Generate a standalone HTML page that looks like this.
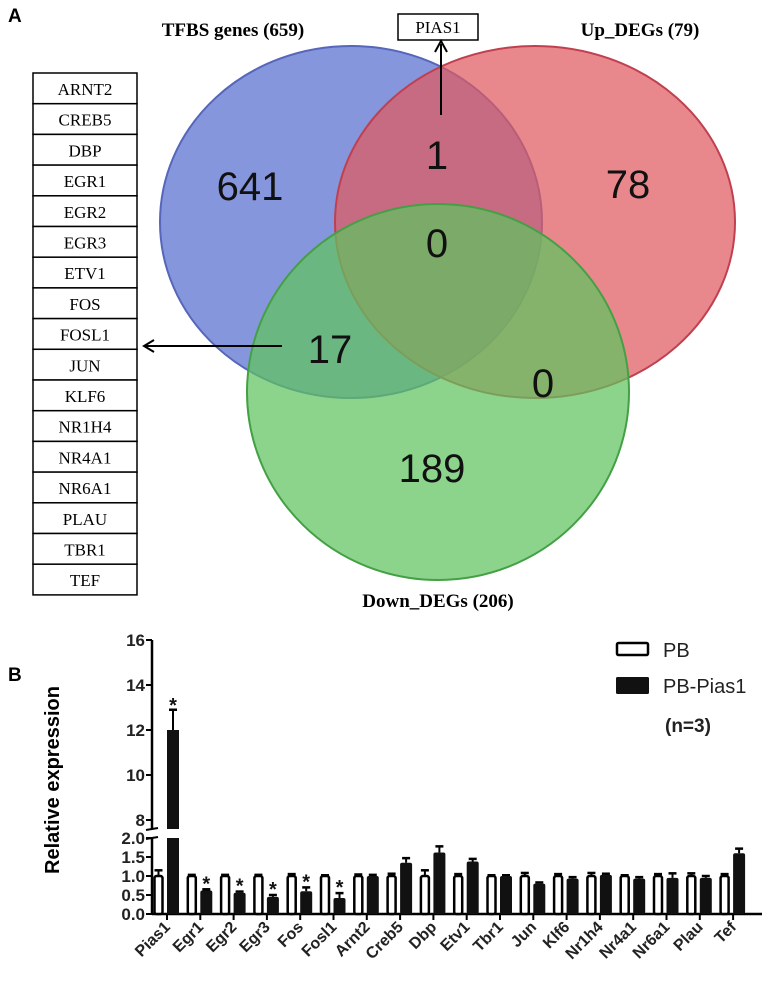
<!DOCTYPE html>
<html><head><meta charset="utf-8"><style>
body{margin:0;background:#fff;width:775px;height:999px;overflow:hidden}
svg text{font-family:"Liberation Sans",sans-serif}
</style></head><body>
<svg id="fig" width="775" height="999" viewBox="0 0 775 999" xmlns="http://www.w3.org/2000/svg">
<text x="8" y="22" font-size="19" font-weight="bold">A</text>
<g>
<ellipse cx="351" cy="222" rx="191" ry="176" fill="rgb(100,120,210)" fill-opacity="0.78" stroke="#5566bb" stroke-width="2"/>
<ellipse cx="535" cy="222" rx="200" ry="176" fill="rgb(225,90,95)" fill-opacity="0.72" stroke="#c04050" stroke-width="2"/>
<ellipse cx="438" cy="392" rx="191" ry="188" fill="rgb(95,195,95)" fill-opacity="0.72" stroke="#44a044" stroke-width="2"/>
<text x="233" y="36" font-size="19" font-weight="bold" text-anchor="middle" style="font-family:'Liberation Serif',serif">TFBS genes (659)</text>
<text x="640" y="36" font-size="19" font-weight="bold" text-anchor="middle" style="font-family:'Liberation Serif',serif">Up_DEGs (79)</text>
<text x="438" y="607" font-size="19" font-weight="bold" text-anchor="middle" style="font-family:'Liberation Serif',serif">Down_DEGs (206)</text>
<g font-size="40" text-anchor="middle" fill="#111">
<text x="250" y="200">641</text>
<text x="437" y="169">1</text>
<text x="628" y="198">78</text>
<text x="437" y="257">0</text>
<text x="330" y="363">17</text>
<text x="543" y="397">0</text>
<text x="432" y="482">189</text>
</g>
<rect x="398" y="14" width="80" height="26" fill="#fff" stroke="#000" stroke-width="1.5"/>
<text x="438" y="33" font-size="17" text-anchor="middle" style="font-family:'Liberation Serif',serif">PIAS1</text>
<line x1="441" y1="115" x2="441" y2="44" stroke="#000" stroke-width="2"/>
<path d="M435,52 L441,41 L447,52" fill="none" stroke="#000" stroke-width="2"/>
</g>
<g id="table"></g>
<line x1="282" y1="346" x2="146" y2="346" stroke="#000" stroke-width="2"/>
<path d="M154,340 L144,346 L154,352" fill="none" stroke="#000" stroke-width="2"/>
<text x="8" y="681" font-size="19" font-weight="bold">B</text>
<g id="chart"></g>
</svg>
<script>
const NS='http://www.w3.org/2000/svg';
const genes=['ARNT2','CREB5','DBP','EGR1','EGR2','EGR3','ETV1','FOS','FOSL1','JUN','KLF6','NR1H4','NR4A1','NR6A1','PLAU','TBR1','TEF'];
const categories=['Pias1','Egr1','Egr2','Egr3','Fos','Fosl1','Arnt2','Creb5','Dbp','Etv1','Tbr1','Jun','Klf6','Nr1h4','Nr4a1','Nr6a1','Plau','Tef'];
const pbValues=[1.0,1.0,1.0,1.0,1.0,1.0,1.0,1.0,1.0,1.0,1.0,1.0,1.0,1.0,1.0,1.0,1.0,1.0];
const pbErrors=[0.15,0.03,0.03,0.03,0.05,0.02,0.04,0.06,0.15,0.05,0.02,0.08,0.05,0.08,0.02,0.05,0.07,0.05];
const piasValues=[12.0,0.62,0.56,0.45,0.6,0.42,1.0,1.35,1.62,1.38,1.0,0.8,0.93,1.03,0.93,0.95,0.95,1.6];
const piasErrors=[0.9,0.03,0.03,0.05,0.1,0.13,0.03,0.12,0.16,0.07,0.02,0.03,0.04,0.03,0.04,0.12,0.05,0.12];
const sig=[true,true,true,true,true,true,false,false,false,false,false,false,false,false,false,false,false,false];
const lowTicks=['0.0','0.5','1.0','1.5','2.0'];
const highTicks=['8','10','12','14','16'];
function el(t,a,p){const e=document.createElementNS(NS,t);for(const k in a)e.setAttribute(k,a[k]);p.appendChild(e);return e;}
const tb=document.getElementById('table');
genes.forEach((g,i)=>{
 const y=73+i*30.7;
 const r=el('rect',{x:33,y:y,width:104,height:30.7,fill:'#fff',stroke:'#000','stroke-width':1.5},tb);
 
 
 const t=el('text',{x:85,y:y+22,'font-size':17,'text-anchor':'middle',style:"font-family:'Liberation Serif',serif"},tb);
 t.textContent=g;
 
 
});
const c=document.getElementById('chart');
const X0=152, lowY0=914, lowPx=38, highBase=820, highPx=22.5, breakLow=838, breakHigh=829;
function yScale(v){return v<=2.05? lowY0-v*lowPx : highBase-(v-8)*highPx;}
function xScale(i){return 167+i*33.3;}
el('line',{x1:X0,y1:yScale(0),x2:X0,y2:breakLow,stroke:'#000','stroke-width':2.5},c);
el('line',{x1:X0,y1:breakHigh,x2:X0,y2:yScale(16),stroke:'#000','stroke-width':2.5},c);
el('line',{x1:X0-6,y1:breakLow+1,x2:X0+6,y2:breakLow-1,stroke:'#000','stroke-width':2},c);
el('line',{x1:X0-6,y1:breakHigh+1,x2:X0+6,y2:breakHigh-1,stroke:'#000','stroke-width':2},c);
el('line',{x1:X0,y1:yScale(0),x2:762,y2:yScale(0),stroke:'#000','stroke-width':2.5},c);
lowTicks.forEach(t=>{const y=yScale(+t);el('line',{x1:X0-6,y1:y,x2:X0,y2:y,stroke:'#000','stroke-width':2},c);
 const tx=el('text',{x:X0-7,y:y+6,'font-size':17,'font-weight':'bold','text-anchor':'end',fill:'#222'},c);tx.textContent=t;
 });
highTicks.forEach(t=>{const y=yScale(+t);el('line',{x1:X0-6,y1:y,x2:X0,y2:y,stroke:'#000','stroke-width':2},c);
 const tx=el('text',{x:X0-7,y:y+6,'font-size':17,'font-weight':'bold','text-anchor':'end',fill:'#222'},c);tx.textContent=t;
 });
const yt=el('text',{x:0,y:0,'font-size':20,'font-weight':'bold','text-anchor':'middle',transform:'translate(59,780) rotate(-90)'},c);
yt.textContent='Relative expression';


function errBar(cx,top,err){const ye=yScale(top+err);
 el('line',{x1:cx,y1:yScale(top),x2:cx,y2:ye,stroke:'#000','stroke-width':2},c);
 el('line',{x1:cx-4,y1:ye,x2:cx+4,y2:ye,stroke:'#000','stroke-width':2.5},c);}
categories.forEach((cat,i)=>{
 const x=xScale(i);
 el('line',{x1:x,y1:lowY0,x2:x,y2:lowY0+6,stroke:'#000','stroke-width':2},c);
 errBar(x-8.5,pbValues[i],pbErrors[i]);
 const w=el('rect',{x:x-12.5,y:yScale(pbValues[i]),width:8,height:lowY0-yScale(pbValues[i]),fill:'#fff',stroke:'#000','stroke-width':2.5,rx:2},c);
 
 
 const v=piasValues[i];
 errBar(x+6,v,piasErrors[i]);
 if(v>2.05){
  const b1=el('rect',{x:x,y:breakLow,width:12,height:lowY0-breakLow,fill:'#111'},c);
  
  
  const b2=el('rect',{x:x,y:yScale(v),width:12,height:breakHigh-yScale(v),fill:'#111'},c);
  
  
 } else {
  const b=el('rect',{x:x,y:yScale(v),width:12,height:lowY0-yScale(v),fill:'#111',rx:2},c);
  
  
 }
 if(sig[i]){const s=el('text',{x:x+6,y:yScale(v+piasErrors[i])+(v>2?2:1),'font-size':20,'font-weight':'bold','text-anchor':'middle',fill:'#111'},c);
  s.textContent='*';}
 const l=el('text',{x:0,y:0,'font-size':16,'font-weight':'bold','text-anchor':'end',fill:'#222',transform:`translate(${x+4},${lowY0+14}) rotate(-45)`},c);
 l.textContent=cat;
 
 
});
const lg=el('g',{},c);


el('rect',{x:617,y:643,width:31,height:12,fill:'#fff',stroke:'#000','stroke-width':2.5,rx:1.5},lg);
const t1=el('text',{x:663,y:657,'font-size':20,fill:'#222'},lg);t1.textContent='PB';
el('rect',{x:616,y:677,width:33,height:17,fill:'#111',rx:1.5},lg);
const t2=el('text',{x:663,y:693,'font-size':20,fill:'#222'},lg);t2.textContent='PB-Pias1';
const t3=el('text',{x:665,y:732,'font-size':19,'font-weight':'bold',fill:'#222'},lg);t3.textContent='(n=3)';


</script>
</body></html>
